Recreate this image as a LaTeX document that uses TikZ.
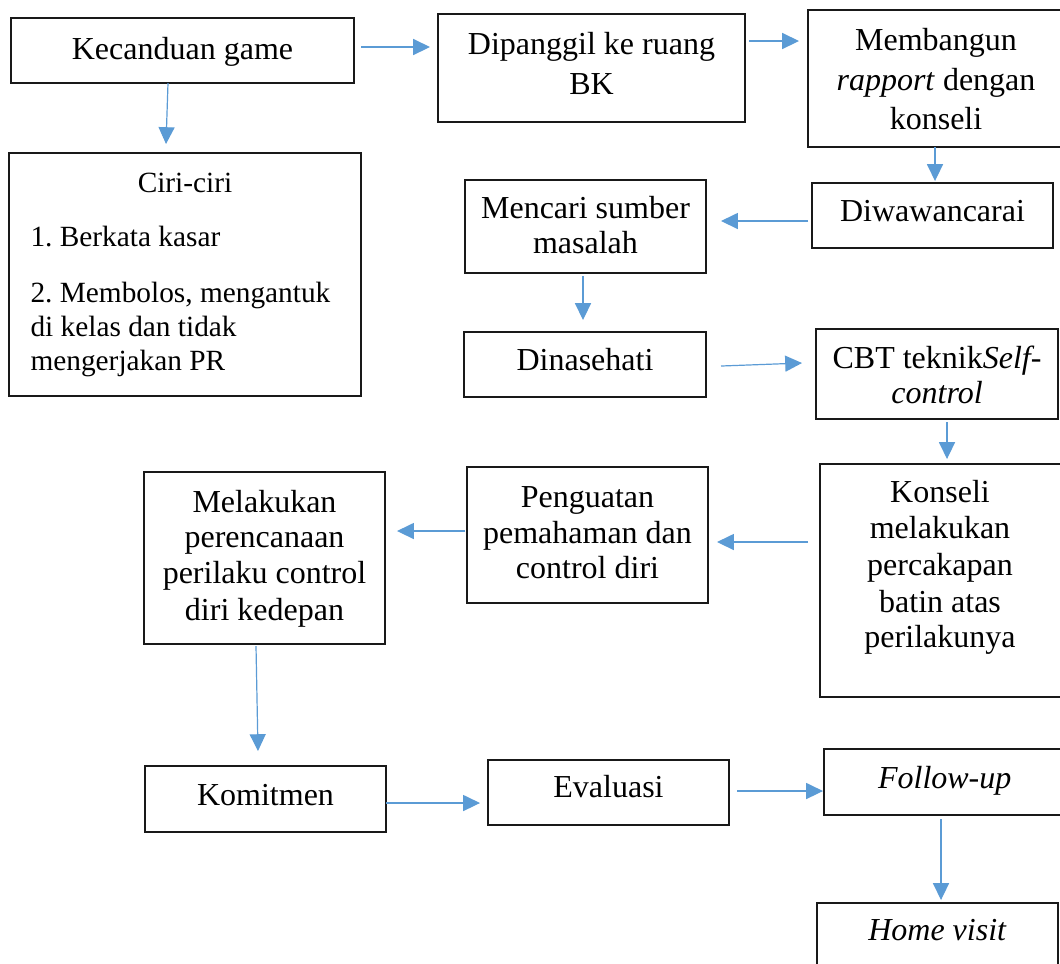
\documentclass[tikz,border=0pt]{standalone}
\usepackage{fontspec}
\setmainfont{Liberation Serif}
\usetikzlibrary{arrows.meta,calc,fit}
\definecolor{arrblue}{HTML}{5B9BD5}
\frenchspacing
\tikzset{
  box/.style={draw=black!90, line width=0.5pt, inner sep=0pt, outer sep=0pt},
  arr/.style={draw=arrblue, line width=0.45pt, -{Triangle[length=6.3pt,width=6pt]}},
  txt/.style={anchor=base, inner sep=0pt, font=\fontsize{12}{14}\selectfont},
  stxt/.style={anchor=base, inner sep=0pt, font=\fontsize{11}{13}\selectfont},
  ltxt/.style={anchor=base west, inner sep=0pt, font=\fontsize{11}{13}\selectfont}
}
\begin{document}
\begin{tikzpicture}[x=0.375pt, y=-0.375pt]
\useasboundingbox (0,0) rectangle (1060,963);
% boxes
\node[box, fit={(11,18) (354,83)}] (k) {};
\node[box, fit={(438,14) (745,122)}] (d) {};
\node[box, fit={(808,10) (1062,147)}] (m) {};
\node[box, fit={(9,153) (361,396)}] (c) {};
\node[box, fit={(812,183) (1053,248)}] (w) {};
\node[box, fit={(465,180) (706,273)}] (s) {};
\node[box, fit={(464,332) (706,397)}] (n) {};
\node[box, fit={(816,329) (1058,419)}] (cb) {};
\node[box, fit={(820,464) (1062,697)}] (ko) {};
\node[box, fit={(467,467) (708,603)}] (p) {};
\node[box, fit={(144,472) (385,644)}] (ml) {};
\node[box, fit={(145,766) (386,832)}] (km) {};
\node[box, fit={(488,760) (729,825)}] (e) {};
\node[box, fit={(824,749) (1066,815)}] (f) {};
\node[box, fit={(817,903) (1058,990)}] (h) {};
% texts
\node[txt] (tk) at (182.5,59) {Kecanduan game};
\node[txt] (td1) at (591.5,54) {Dipanggil ke ruang};
\node[txt] (td2) at (591.5,94) {BK};
\node[txt] (tm1) at (936,50) {Membangun};
\node[txt] (tm2) at (936,90) {\textit{rapport} dengan};
\node[txt] (tm3) at (936,129) {konseli};
\node[stxt] (tc0) at (185,192) {Ciri-ciri};
\node[ltxt] (tc1) at (30,246) {1. Berkata kasar};
\node[ltxt] (tc2) at (30,302) {2. Membolos, mengantuk};
\node[ltxt] (tc3) at (30,336) {di kelas dan tidak};
\node[ltxt] (tc4) at (30,370) {mengerjakan PR};
\node[txt] (tw) at (932.5,221) {Diwawancarai};
\node[txt] (ts1) at (585.5,218) {Mencari sumber};
\node[txt] (ts2) at (585.5,253) {masalah};
\node[txt] (tn) at (585,370) {Dinasehati};
\node[txt] (tcb1) at (937,368) {CBT teknik\textit{Self-}};
\node[txt] (tcb2) at (937,403) {\textit{control}};
\node[txt] (tko1) at (940,502) {Konseli};
\node[txt] (tko2) at (940,538) {melakukan};
\node[txt] (tko3) at (940,575) {percakapan};
\node[txt] (tko4) at (940,612) {batin atas};
\node[txt] (tko5) at (940,647) {perilakunya};
\node[txt] (tp1) at (587.5,507) {Penguatan};
\node[txt] (tp2) at (587.5,543) {pemahaman dan};
\node[txt] (tp3) at (587.5,578) {control diri};
\node[txt] (tml1) at (264.5,512) {Melakukan};
\node[txt] (tml2) at (264.5,547) {perencanaan};
\node[txt] (tml3) at (264.5,583) {perilaku control};
\node[txt] (tml4) at (264.5,620) {diri kedepan};
\node[txt] (tkm) at (265.5,805) {Komitmen};
\node[txt] (te) at (608.5,797) {Evaluasi};
\node[txt] (tf) at (944.7,788) {\textit{Follow-up}};
\node[txt] (th) at (937.5,940) {\textit{Home visit}};
% connectors
\draw[arr] ($(k.east|-0,47)+(7,0)$) -- ($(d.west|-0,47)+(-8,0)$);
\draw[arr] ($(d.east|-0,41)+(4,0)$) -- ($(m.west|-0,41)+(-9,0)$);
\draw[arr] (k.south-|168,0) -- ($(c.north-|166,0)+(0,-9)$);
\draw[arr] (m.south-|935,0) -- ($(w.north-|935,0)+(0,-2)$);
\draw[arr] ($(w.west|-0,221)+(-4,0)$) -- ($(s.east|-0,221)+(15,0)$);
\draw[arr] ($(s.south-|583,0)+(0,3)$) -- ($(n.north-|583,0)+(0,-12)$);
\draw[arr] ($(n.east|-0,366)+(15,0)$) -- ($(cb.west|-0,363)+(-14,0)$);
\draw[arr] ($(cb.south-|947,0)+(0,3)$) -- ($(ko.north-|947,0)+(0,-5)$);
\draw[arr] ($(ko.west|-0,542)+(-12,0)$) -- ($(p.east|-0,542)+(9,0)$);
\draw[arr] ($(p.west|-0,531)+(-2,0)$) -- ($(ml.east|-0,531)+(12,0)$);
\draw[arr] ($(ml.south-|256,0)+(0,2)$) -- ($(km.north-|258,0)+(0,-15)$);
\draw[arr] (km.east|-0,803) -- ($(e.west|-0,803)+(-8,0)$);
\draw[arr] ($(e.east|-0,791)+(8,0)$) -- ($(f.west|-0,791)+(-1,0)$);
\draw[arr] ($(f.south-|941,0)+(0,4)$) -- ($(h.north-|941,0)+(0,-3)$);
\end{tikzpicture}
\end{document}
